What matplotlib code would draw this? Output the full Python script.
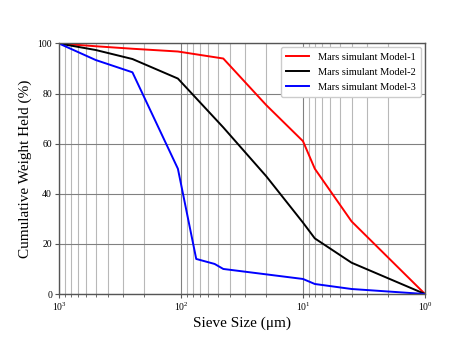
import matplotlib
matplotlib.use('Agg')
import matplotlib.pyplot as plt
import numpy as np

plt.rcParams['font.family'] = ['Liberation Serif', 'DejaVu Serif']
plt.rcParams['mathtext.fontset'] = 'stix'

# sieve sizes (um) and cumulative weight held (%)
size_m1 = [1000, 500, 250, 106, 45, 20, 10, 8, 4, 1]
held_m1 = [100, 98.9, 97.9, 96.8, 94.0, 75.4, 61.0, 50.0, 29.0, 0]

size_m2 = [1000, 500, 250, 106, 45, 20, 10, 8, 4, 1]
held_m2 = [100, 97.4, 93.8, 86.0, 66.5, 47.0, 28.5, 22.2, 12.5, 0]

size_m3 = [1000, 500, 250, 106, 75, 53, 45, 10, 8, 4, 1]
held_m3 = [100, 93.4, 88.5, 50.0, 14.0, 12.0, 10.0, 6.0, 4.0, 2.0, 0]

labels = ['Mars simulant Model-1', 'Mars simulant Model-2', 'Mars simulant Model-3']

fig = plt.figure(figsize=(4.73, 3.55), dpi=100)
ax = fig.add_axes([0.1247, 0.1718, 0.7738, 0.7057])

ax.plot(size_m1, held_m1, color='red', lw=1.4, label=labels[0])
ax.plot(size_m2, held_m2, color='black', lw=1.4, label=labels[1])
ax.plot(size_m3, held_m3, color='blue', lw=1.4, label=labels[2])

ax.set_xscale('log')
ax.set_xlim(1000, 1)
ax.set_ylim(0, 100)
ax.set_yticks([0, 20, 40, 60, 80, 100])

ax.grid(which='major', color='#808080', lw=0.8)
ax.grid(which='minor', axis='x', color='#b8b8b8', lw=0.8)
for s in ax.spines.values():
    s.set_color('#555555')
    s.set_linewidth(1.0)
ax.tick_params(which='both', labelsize=7, length=3, color='#555555', pad=2)
ax.tick_params(which='minor', length=2)

ax.set_xlabel('Sieve Size (\u03bcm)', fontsize=11, labelpad=2)
ax.set_ylabel('Cumulative Weight Held (%)', fontsize=11, labelpad=4)
ax.legend(loc='upper right', fontsize=7.5, framealpha=1, edgecolor='#cccccc',
          handlelength=2.2, borderpad=0.5, labelspacing=0.55,
          borderaxespad=0.35, handletextpad=0.9)

fig.savefig('out.png', dpi=100)
